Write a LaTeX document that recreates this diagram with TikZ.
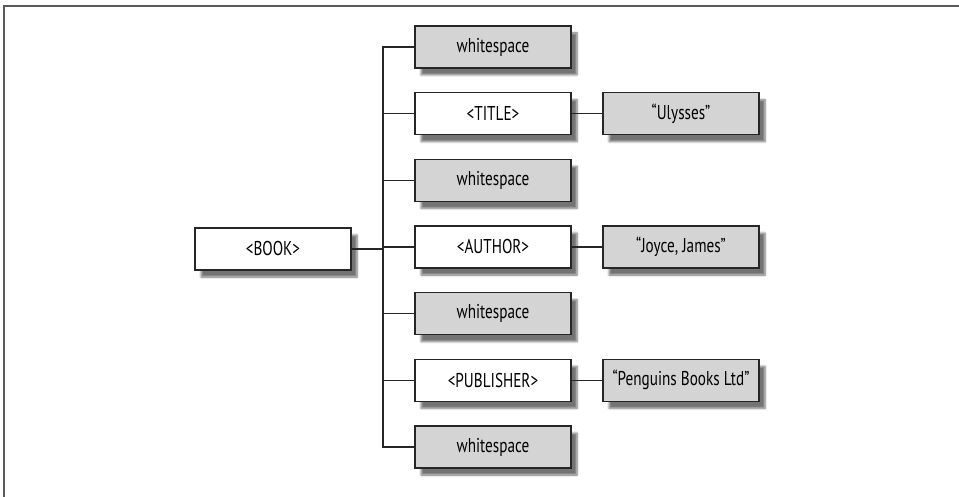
\documentclass[tikz,border=0pt]{standalone}
\usepackage{fontspec}
\setmainfont[FakeStretch=0.76]{PT Sans}
\usetikzlibrary{shadows.blur}
\begin{document}
\begin{tikzpicture}[x=1pt,y=-1pt,
  box/.style={draw=black!85, line width=1.1pt, minimum width=156pt, minimum height=42pt,
    inner sep=0pt, font=\fontsize{20}{24}\selectfont,
    blur shadow={shadow xshift=6pt, shadow yshift=-7pt, shadow blur steps=6, shadow blur extra rounding=0pt, shadow opacity=55}},
  wbox/.style={box, fill=white},
  gbox/.style={box, fill=black!17},
  conn/.style={draw=black!85, line width=1.1pt}]
\useasboundingbox (0,0) rectangle (959,497);
\draw[black!65, line width=2pt] (4,497) -- (4,6) -- (959,6);
\node[wbox] (book) at (273,249) {<BOOK>};
\node[gbox] (w1) at (493,47) {whitespace};
\node[wbox] (title) at (493,113.7) {<TITLE>};
\node[gbox] (w2) at (493,180.3) {whitespace};
\node[wbox] (author) at (493,247) {<AUTHOR>};
\node[gbox] (w3) at (493,313.7) {whitespace};
\node[wbox] (pub) at (493,380.3) {<PUBLISHER>};
\node[gbox] (w4) at (493,447) {whitespace};
\node[gbox] (uly) at (681,113.7) {“Ulysses”};
\node[gbox] (joyce) at (681,247) {“Joyce, James”};
\node[gbox] (peng) at (681,380.3) {“Penguins Books Ltd”};
\coordinate (trunk) at (383,0);
\draw[conn] (w1.west) -| (trunk |- w4.west) -- (w4.west);
\foreach \n in {title,w2,author,w3,pub} \draw[conn] (\n.west) -- (trunk |- \n.west);
\draw[conn] (book.east) -- (trunk |- book.east);
\draw[conn] (title) -- (uly);
\draw[conn] (author) -- (joyce);
\draw[conn] (pub) -- (peng);
\end{tikzpicture}
\end{document}
